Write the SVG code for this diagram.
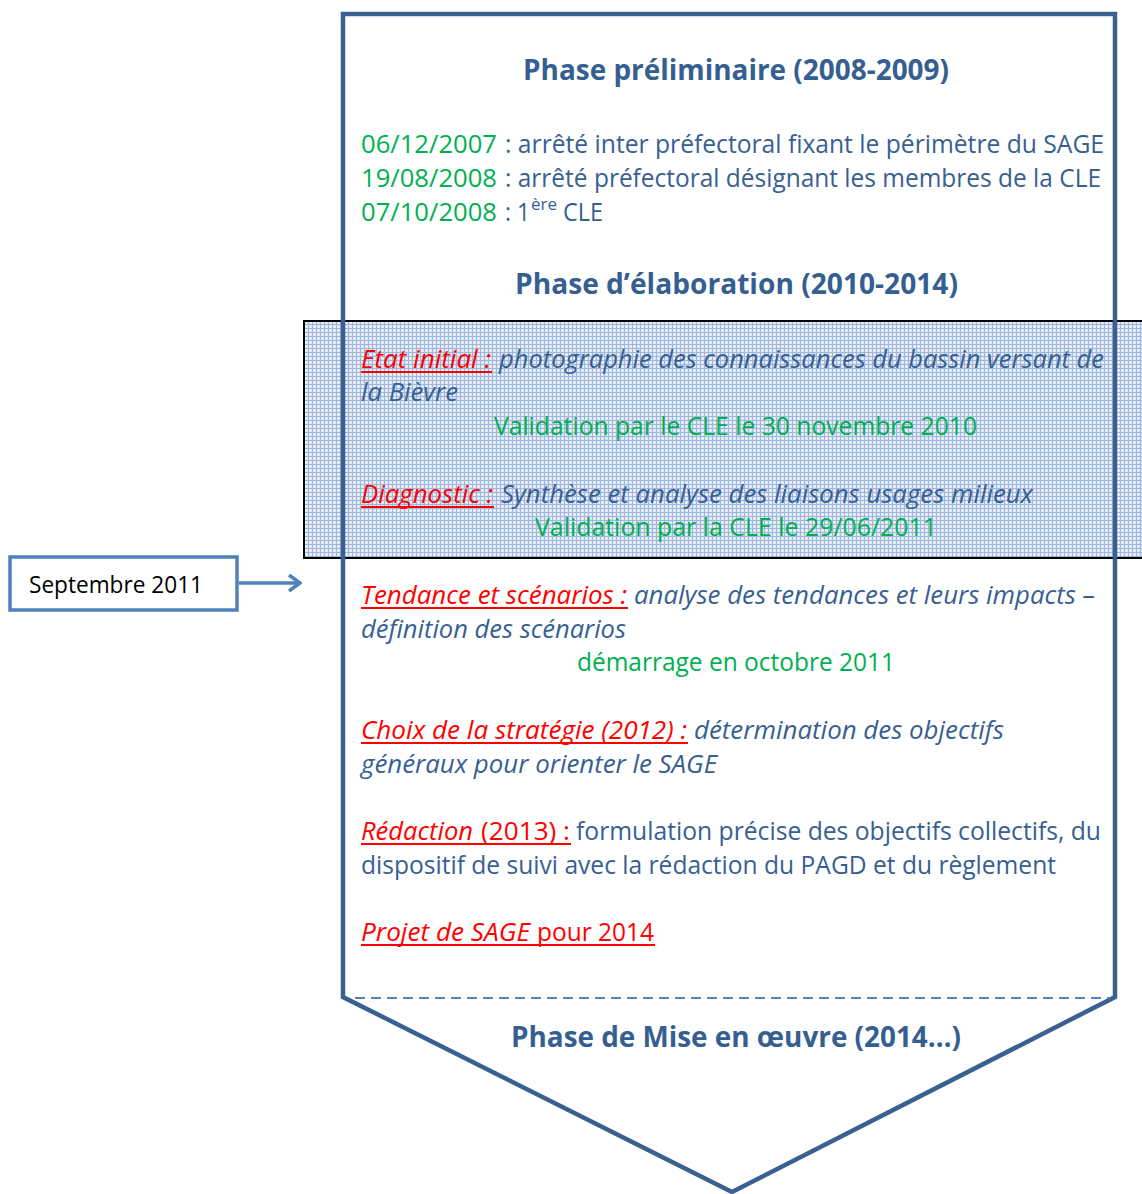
<svg xmlns="http://www.w3.org/2000/svg" width="1142" height="1194" viewBox="0 0 1142 1194">
<style>
.t{font-family:"Open Sans","Liberation Sans",sans-serif;}
.h{font-size:28px;font-weight:bold;fill:#365F91;}
.b{font-size:25.5px;fill:#376092;}
.g{font-size:25.5px;fill:#00B050;}
.r{font-size:25.5px;fill:#FF0000;}
.i{font-style:italic;}
.ul{stroke:#FF0000;stroke-width:2;}
</style>
<defs>
<pattern id="grid" width="4" height="4" patternUnits="userSpaceOnUse">
<rect width="4" height="4" fill="#dfe7f4"/>
<rect width="4" height="1" fill="#9fb7dc"/>
<rect width="1" height="4" fill="#9fb7dc"/>
<rect x="2" y="2" width="1" height="1" fill="#ffffff"/>
</pattern>
<marker id="arr" viewBox="0 0 14 18" refX="12" refY="9" markerWidth="14" markerHeight="18" markerUnits="userSpaceOnUse" orient="auto">
<path d="M1,1 L12,9 L1,17" fill="none" stroke="#4F81BD" stroke-width="3.5"/>
</marker>
</defs>

<g id="highlight-band">
<rect x="304" y="321" width="840" height="237" fill="url(#grid)" stroke="#000" stroke-width="2"/>
</g>

<g id="phase-arrow">
<path d="M343,14 L1115,14 L1115,997 L732,1192 L343,997 Z" fill="none" stroke="#3A6091" stroke-width="4.5" stroke-linejoin="miter"/>
<line x1="355" y1="998" x2="1110" y2="998" stroke="#4F81BD" stroke-width="2" stroke-dasharray="10,6"/>
</g>

<g id="phase-preliminaire">
<text class="t h" x="523" y="80" textLength="426" lengthAdjust="spacingAndGlyphs">Phase préliminaire (2008-2009)</text>
<text class="t g" x="361" y="153" textLength="136" lengthAdjust="spacingAndGlyphs">06/12/2007</text>
<text class="t b" x="505" y="153" textLength="599" lengthAdjust="spacingAndGlyphs">: arrêté inter préfectoral fixant le périmètre du SAGE</text>
<text class="t g" x="361" y="187" textLength="136" lengthAdjust="spacingAndGlyphs">19/08/2008</text>
<text class="t b" x="505" y="187" textLength="596" lengthAdjust="spacingAndGlyphs">: arrêté préfectoral désignant les membres de la CLE</text>
<text class="t g" x="361" y="221" textLength="136" lengthAdjust="spacingAndGlyphs">07/10/2008</text>
<text class="t b" x="505" y="221" textLength="25" lengthAdjust="spacingAndGlyphs">: 1</text>
<text class="t b" x="531" y="210" style="font-size:16px" textLength="26" lengthAdjust="spacingAndGlyphs">ère</text>
<text class="t b" x="563" y="221" textLength="40" lengthAdjust="spacingAndGlyphs">CLE</text>
</g>

<g id="phase-elaboration">
<text class="t h" x="515" y="294" textLength="443" lengthAdjust="spacingAndGlyphs">Phase d’élaboration (2010-2014)</text>
</g>

<g id="etat-initial">
<text class="t r i" x="361" y="368" textLength="130" lengthAdjust="spacingAndGlyphs">Etat initial :</text>
<line class="ul" x1="361" y1="372" x2="492" y2="372"/>
<text class="t b i" x="499" y="368" textLength="605" lengthAdjust="spacingAndGlyphs">photographie des connaissances du bassin versant de</text>
<text class="t b i" x="361" y="401" textLength="97" lengthAdjust="spacingAndGlyphs">la Bièvre</text>
<text class="t g" x="494" y="435" textLength="483" lengthAdjust="spacingAndGlyphs">Validation par le CLE le 30 novembre 2010</text>
</g>

<g id="diagnostic">
<text class="t r i" x="361" y="503" textLength="132" lengthAdjust="spacingAndGlyphs">Diagnostic :</text>
<line class="ul" x1="361" y1="507" x2="494" y2="507"/>
<text class="t b i" x="501" y="503" textLength="532" lengthAdjust="spacingAndGlyphs">Synthèse et analyse des liaisons usages milieux</text>
<text class="t g" x="535" y="536" textLength="402" lengthAdjust="spacingAndGlyphs">Validation par la CLE le 29/06/2011</text>
</g>

<g id="tendance">
<text class="t r i" x="361" y="604" textLength="266" lengthAdjust="spacingAndGlyphs">Tendance et scénarios :</text>
<line class="ul" x1="361" y1="608" x2="628" y2="608"/>
<text class="t b i" x="634" y="604" textLength="461" lengthAdjust="spacingAndGlyphs">analyse des tendances et leurs impacts –</text>
<text class="t b i" x="361" y="638" textLength="265" lengthAdjust="spacingAndGlyphs">définition des scénarios</text>
<text class="t g" x="577" y="671" textLength="318" lengthAdjust="spacingAndGlyphs">démarrage en octobre 2011</text>
</g>

<g id="choix-strategie">
<text class="t r i" x="361" y="739" textLength="326" lengthAdjust="spacingAndGlyphs">Choix de la stratégie (2012) :</text>
<line class="ul" x1="361" y1="743" x2="688" y2="743"/>
<text class="t b i" x="694" y="739" textLength="310" lengthAdjust="spacingAndGlyphs">détermination des objectifs</text>
<text class="t b i" x="361" y="773" textLength="356" lengthAdjust="spacingAndGlyphs">généraux pour orienter le SAGE</text>
</g>

<g id="redaction">
<text class="t r i" x="361" y="840" textLength="112" lengthAdjust="spacingAndGlyphs">Rédaction</text>
<text class="t r" x="481" y="840" textLength="89" lengthAdjust="spacingAndGlyphs">(2013) :</text>
<line class="ul" x1="361" y1="844" x2="571" y2="844"/>
<text class="t b" x="576" y="840" textLength="525" lengthAdjust="spacingAndGlyphs">formulation précise des objectifs collectifs, du</text>
<text class="t b" x="361" y="874" textLength="695" lengthAdjust="spacingAndGlyphs">dispositif de suivi avec la rédaction du PAGD et du règlement</text>
</g>

<g id="projet-sage">
<text class="t r i" x="361" y="941" textLength="169" lengthAdjust="spacingAndGlyphs">Projet de SAGE</text>
<text class="t r" x="537" y="941" textLength="117" lengthAdjust="spacingAndGlyphs">pour 2014</text>
<line class="ul" x1="361" y1="945" x2="655" y2="945"/>
</g>

<g id="phase-mise-en-oeuvre">
<text class="t h" x="511" y="1047" textLength="450" lengthAdjust="spacingAndGlyphs">Phase de Mise en œuvre (2014…)</text>
</g>

<g id="septembre-2011">
<rect x="10" y="557" width="227" height="53" fill="#fff" stroke="#4F81BD" stroke-width="3.5"/>
<text class="t" x="29" y="593" style="font-size:23px;fill:#000" textLength="174" lengthAdjust="spacingAndGlyphs">Septembre 2011</text>
</g>

<g id="connectors">
<line x1="239" y1="583" x2="300" y2="583" stroke="#4F81BD" stroke-width="3.5" marker-end="url(#arr)"/>
</g>
</svg>
